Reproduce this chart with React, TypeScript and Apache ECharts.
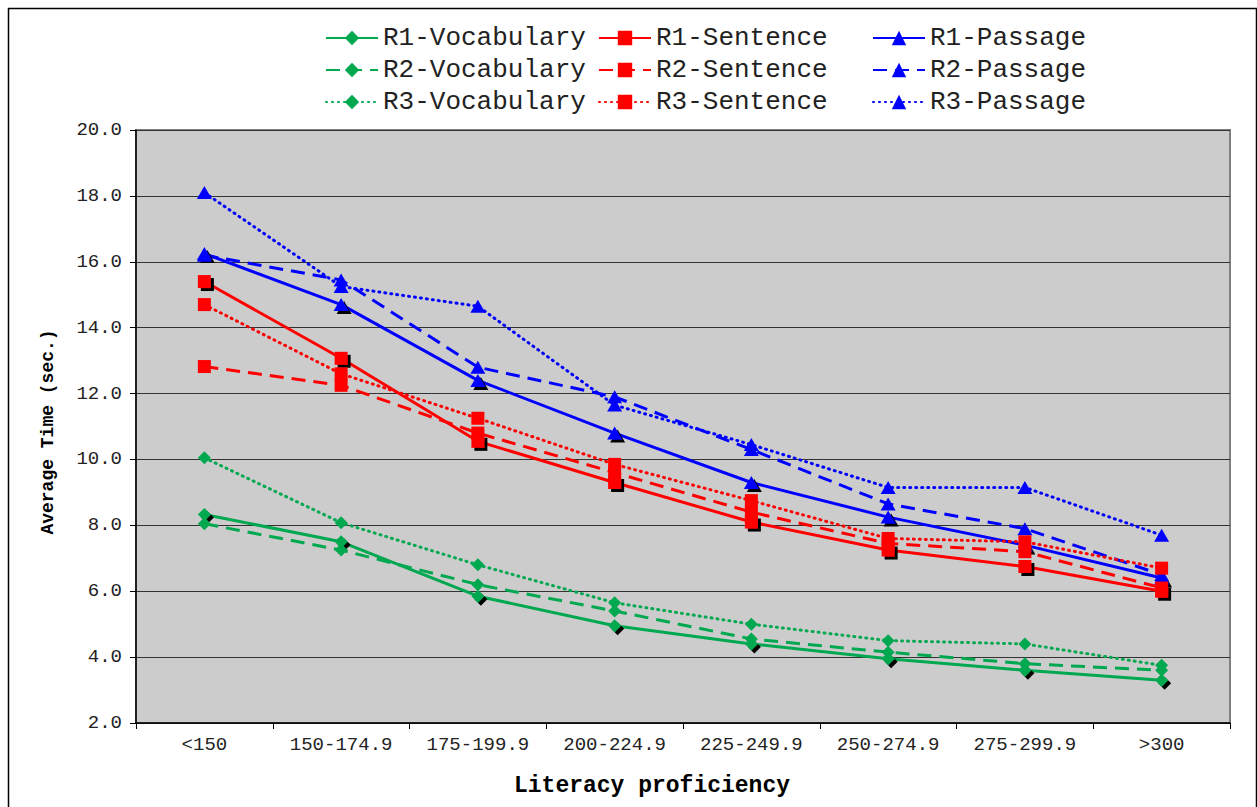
import React, { useEffect, useRef } from "react";
import * as echarts from "echarts";

const categories = ["<150", "150-174.9", "175-199.9", "200-224.9", "225-249.9", "250-274.9", "275-299.9", ">300"];

const r1Vocabulary = [8.33, 7.5, 5.85, 4.95, 4.4, 3.95, 3.6, 3.3];
const r2Vocabulary = [8.05, 7.25, 6.2, 5.4, 4.55, 4.15, 3.8, 3.6];
const r3Vocabulary = [10.05, 8.08, 6.8, 5.65, 5.0, 4.5, 4.4, 3.75];
const r1Sentence = [15.4, 13.07, 10.55, 9.3, 8.1, 7.25, 6.75, 6.0];
const r2Sentence = [12.82, 12.25, 10.8, 9.6, 8.4, 7.45, 7.2, 6.1];
const r3Sentence = [14.7, 12.6, 11.25, 9.85, 8.75, 7.6, 7.5, 6.7];
const r1Passage = [16.25, 14.7, 12.4, 10.8, 9.3, 8.25, 7.4, 6.4];
const r2Passage = [16.2, 15.45, 12.8, 11.9, 10.3, 8.65, 7.9, 6.5];
const r3Passage = [18.1, 15.25, 14.65, 11.65, 10.45, 9.15, 9.15, 7.7];

const yMin = 2;
const yMax = 20;
const yStep = 2;

const FONT = '"Liberation Mono", "Courier New", monospace';
const GREEN = "#00A850";
const RED = "#FF0000";
const BLUE = "#0000FF";

export default function App() {
  const ref = useRef<HTMLDivElement>(null);
  useEffect(() => {
    const chart = echarts.init(ref.current!, null, { renderer: "svg" });

    const mk = (
      name: string,
      data: number[],
      color: string,
      style: "solid" | "dashed" | "dotted",
      symbol: string,
      size: number | number[],
      shadow: boolean
    ) => ({
      name,
      type: "line",
      data,
      symbol,
      symbolSize: size,
      showAllSymbol: true,
      lineStyle: {
        color,
        width: 3,
        type: style === "solid" ? "solid" : style === "dashed" ? [14, 8] : [1, 5],
        cap: style === "dotted" ? "round" : "butt",
      },
      itemStyle: shadow
        ? { color, shadowColor: "#000", shadowOffsetX: 3, shadowOffsetY: 3, shadowBlur: 0 }
        : { color },
      emphasis: { disabled: true },
    });

    const tri = [15, 13];
    const series = [
      mk("R1-Vocabulary", r1Vocabulary, GREEN, "solid", "diamond", 13, true),
      mk("R1-Sentence", r1Sentence, RED, "solid", "rect", 13, true),
      mk("R1-Passage", r1Passage, BLUE, "solid", "triangle", tri, true),
      mk("R2-Vocabulary", r2Vocabulary, GREEN, "dashed", "diamond", 13, false),
      mk("R2-Sentence", r2Sentence, RED, "dashed", "rect", 13, false),
      mk("R2-Passage", r2Passage, BLUE, "dashed", "triangle", tri, false),
      mk("R3-Vocabulary", r3Vocabulary, GREEN, "dotted", "diamond", 13, false),
      mk("R3-Sentence", r3Sentence, RED, "dotted", "rect", 13, false),
      mk("R3-Passage", r3Passage, BLUE, "dotted", "triangle", tri, false),
    ];

    const legendCols = [
      { left: 320, data: ["R1-Vocabulary", "R2-Vocabulary", "R3-Vocabulary"] },
      { left: 593, data: ["R1-Sentence", "R2-Sentence", "R3-Sentence"] },
      { left: 867, data: ["R1-Passage", "R2-Passage", "R3-Passage"] },
    ];

    chart.setOption({
      animation: false,
      backgroundColor: "#fff",
      legend: legendCols.map((c) => ({
        orient: "vertical",
        left: c.left,
        top: 20,
        itemWidth: 52,
        itemHeight: 18,
        itemGap: 6,
        selectedMode: false,
        data: c.data,
        textStyle: { fontFamily: FONT, fontSize: 26, color: "#222", lineHeight: 26 },
        itemStyle: { shadowBlur: 0, shadowOffsetX: 0, shadowOffsetY: 0, shadowColor: "transparent" },
      })),
      grid: {
        left: 136,
        right: 27,
        top: 130,
        bottom: 84,
        show: true,
        backgroundColor: "#CCCCCC",
        borderColor: "#808080",
        borderWidth: 2,
      },
      xAxis: {
        type: "category",
        data: categories,
        boundaryGap: true,
        axisLine: { lineStyle: { color: "#000", width: 1.5 } },
        axisTick: { show: true, length: 6, alignWithLabel: false, lineStyle: { color: "#000" } },
        axisLabel: { fontFamily: FONT, fontSize: 19, color: "#222", margin: 12, interval: 0 },
        splitLine: { show: false },
      },
      yAxis: {
        type: "value",
        min: yMin,
        max: yMax,
        interval: yStep,
        axisLine: { show: true, lineStyle: { color: "#000", width: 1.5 } },
        axisTick: { show: true, length: 6, lineStyle: { color: "#000" } },
        axisLabel: {
          fontFamily: FONT,
          fontSize: 19,
          color: "#222",
          margin: 14,
          formatter: (v: number) => v.toFixed(1),
        },
        splitLine: { show: true, lineStyle: { color: "#333", width: 1 } },
      },
      graphic: [
        {
          type: "rect",
          left: 6,
          top: 6,
          shape: { width: 1248, height: 830 },
          style: { fill: "none", stroke: "#000", lineWidth: 1.5 },
          silent: true,
        },
        {
          type: "text",
          x: 652,
          y: 786,
          style: {
            text: "Literacy proficiency",
            fontFamily: FONT,
            fontSize: 23,
            fontWeight: "bold",
            fill: "#000",
            align: "center",
            verticalAlign: "middle",
          },
        },
        {
          type: "text",
          x: 48,
          y: 432,
          rotation: Math.PI / 2,
          style: {
            text: "Average Time (sec.)",
            fontFamily: FONT,
            fontSize: 18,
            fontWeight: "bold",
            fill: "#000",
            align: "center",
            verticalAlign: "middle",
          },
        },
      ],
      series,
    });
    return () => chart.dispose();
  }, []);
  return (
    <div
      ref={ref}
      style={{ position: "fixed", left: 0, top: 0, width: 1257, height: 807, background: "#fff" }}
    />
  );
}
